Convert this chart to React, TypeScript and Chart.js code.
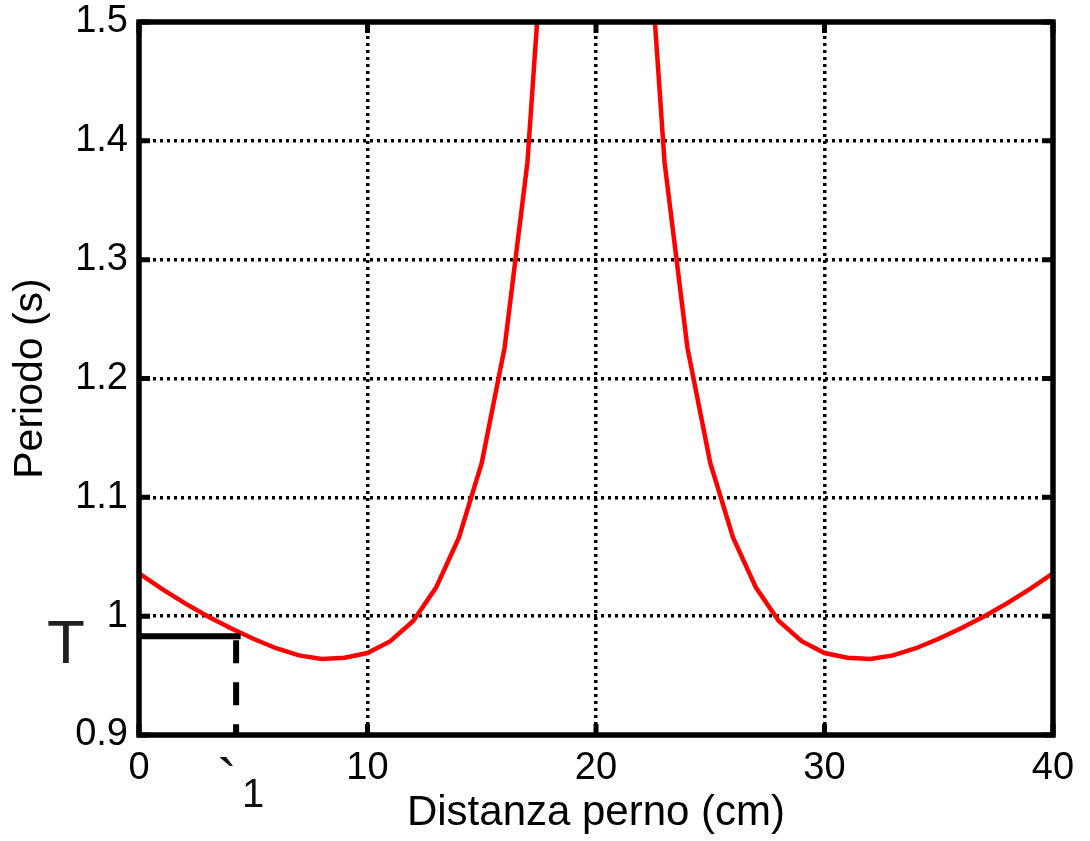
import React, { useEffect, useRef } from "react";
import { Chart, registerables } from "chart.js";

Chart.register(...registerables);

// ---- data ----
const distanceCm = [
  0, 1, 2, 3, 4, 5, 6, 7, 8, 9, 10, 11, 12, 13, 14, 15, 16, 17, 18, 19, 20,
  21, 22, 23, 24, 25, 26, 27, 28, 29, 30, 31, 32, 33, 34, 35, 36, 37, 38, 39, 40,
];
const periodS = [
  1.036, 1.023, 1.011, 1.0, 0.99, 0.981, 0.973, 0.967, 0.964, 0.965, 0.969,
  0.979, 0.996, 1.024, 1.066, 1.129, 1.226, 1.382, 1.662, 2.325, null,
  2.325, 1.662, 1.382, 1.226, 1.129, 1.066, 1.024, 0.996, 0.979, 0.969,
  0.965, 0.964, 0.967, 0.973, 0.981, 0.99, 1.0, 1.011, 1.023, 1.036,
];
const xTicks = [0, 10, 20, 30, 40];
const yTicks = [0.9, 1.0, 1.1, 1.2, 1.3, 1.4, 1.5];
const yTickLabels = ["0.9", "1", "1.1", "1.2", "1.3", "1.4", "1.5"];

// marker for T and l1
const markerPeriod = 0.983;
const markerHLineEnd = 4.45;
const markerVLineX = 4.25;

const xTitle = "Distanza perno (cm)";
const yTitle = "Periodo (s)";
const markerLabel = "T";
const markerSubAccent = "`";
const markerSub = "1";

const FONT = "'Liberation Sans', Arial, Helvetica, sans-serif";

const framePlugin = {
  id: "matlabFrame",
  afterDraw(chart: any) {
    const { ctx, chartArea: a, scales } = chart;
    const xs = scales.x;
    const ys = scales.y;
    ctx.save();
    ctx.strokeStyle = "#000";
    ctx.lineCap = "butt";
    ctx.lineWidth = 5;
    const tl = 11;
    ctx.beginPath();
    xTicks.forEach((v) => {
      const px = xs.getPixelForValue(v);
      ctx.moveTo(px, a.bottom);
      ctx.lineTo(px, a.bottom - tl);
      ctx.moveTo(px, a.top);
      ctx.lineTo(px, a.top + tl);
    });
    yTicks.forEach((v) => {
      const py = ys.getPixelForValue(v);
      ctx.moveTo(a.left, py);
      ctx.lineTo(a.left + tl, py);
      ctx.moveTo(a.right, py);
      ctx.lineTo(a.right - tl, py);
    });
    ctx.stroke();
    ctx.lineWidth = 5.5;
    ctx.lineJoin = "miter";
    ctx.strokeRect(a.left, a.top, a.right - a.left, a.bottom - a.top);

    // annotation texts
    const yT = ys.getPixelForValue(markerPeriod);
    ctx.fillStyle = "#231f20";
    ctx.font = `62px ${FONT}`;
    ctx.textAlign = "left";
    ctx.textBaseline = "alphabetic";
    ctx.fillText(markerLabel, a.left - 92, yT + 27);

    const xL = xs.getPixelForValue(markerVLineX);
    ctx.fillStyle = "#111";
    ctx.font = `60px ${FONT}`;
    ctx.textAlign = "center";
    ctx.fillText(markerSubAccent, xL - 9, a.bottom + 66);
    ctx.font = `40px ${FONT}`;
    ctx.fillText(markerSub, xL + 17, a.bottom + 72);
    ctx.restore();
  },
};

export default function App() {
  const canvasRef = useRef<HTMLCanvasElement | null>(null);

  useEffect(() => {
    const canvas = canvasRef.current;
    if (!canvas) return;
    const curve = distanceCm.map((x, i) => ({ x, y: periodS[i] }));
    const chart = new Chart(canvas, {
      type: "line",
      data: {
        datasets: [
          {
            data: [
              { x: 0, y: markerPeriod },
              { x: markerHLineEnd, y: markerPeriod },
            ],
            borderColor: "#000",
            borderWidth: 6,
            pointRadius: 0,
            borderCapStyle: "butt",
            order: 0,
          },
          {
            data: [
              { x: markerVLineX, y: markerPeriod },
              { x: markerVLineX, y: 0.9 },
            ],
            borderColor: "#000",
            borderWidth: 6,
            pointRadius: 0,
            borderDash: [23, 19],
            borderDashOffset: -4,
            borderCapStyle: "butt",
            order: 0,
          },
          {
            data: curve as any,
            borderColor: "#ff0000",
            borderWidth: 4.5,
            pointRadius: 0,
            tension: 0,
            spanGaps: false,
            order: 1,
          },
        ],
      },
      options: {
        responsive: false,
        animation: false,
        layout: { padding: { top: 22, right: 37, left: 0, bottom: 0 } },
        plugins: {
          legend: { display: false },
          tooltip: { enabled: false },
        },
        scales: {
          x: {
            type: "linear",
            min: 0,
            max: 40,
            afterBuildTicks: (s: any) => {
              s.ticks = xTicks.map((v) => ({ value: v }));
            },
            afterFit: (s: any) => {
              s.height = 106;
              s.paddingLeft = 0;
              s.paddingRight = 0;
            },
            ticks: {
              color: "#000",
              font: { family: FONT, size: 38 },
              padding: 11,
              maxRotation: 0,
              autoSkip: false,
              callback: (v: any) => String(v),
            },
            grid: { color: "#000", lineWidth: 3.5, drawTicks: false },
            border: { display: false, dash: [3, 4] },
            title: {
              display: true,
              text: xTitle,
              color: "#000",
              font: { family: FONT, size: 42 },
              padding: { top: 0, bottom: 2 },
            },
          },
          y: {
            type: "linear",
            min: 0.9,
            max: 1.5,
            afterBuildTicks: (s: any) => {
              s.ticks = yTicks.map((v) => ({ value: v }));
            },
            afterFit: (s: any) => {
              s.width = 139;
              s.paddingTop = 0;
              s.paddingBottom = 0;
            },
            ticks: {
              color: "#000",
              font: { family: FONT, size: 38 },
              padding: 11,
              autoSkip: false,
              callback: (_v: any, i: number) => yTickLabels[i],
            },
            grid: { color: "#000", lineWidth: 3.5, drawTicks: false },
            border: { display: false, dash: [3, 4] },
            title: {
              display: true,
              text: yTitle,
              color: "#000",
              font: { family: FONT, size: 41 },
              padding: { top: 6, bottom: 0 },
            },
          },
        },
      },
      plugins: [framePlugin],
    });
    return () => chart.destroy();
  }, []);

  return (
    <div style={{ position: "fixed", left: 0, top: 0, width: 1090, height: 841, background: "#fff" }}>
      <canvas ref={canvasRef} width={1090} height={841} style={{ display: "block" }} />
    </div>
  );
}
